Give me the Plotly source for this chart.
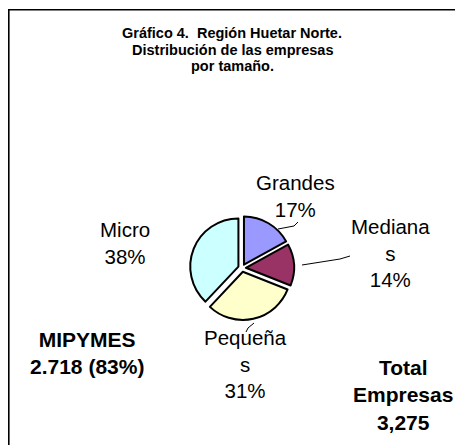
import plotly.graph_objects as go

W, H = 463, 445
OFF = 8  # page body margin offsets the figure

categories = ["Grandes", "Medianas", "Pequeñas", "Micro"]
shares = [17, 14, 31, 38]
label_texts = ["Grandes<br>17%", "Mediana<br>s<br>14%", "Pequeña<br>s<br>31%", "Micro<br>38%"]
colors = ["#9999FF", "#993366", "#FFFFCC", "#CCFFFF"]

title_lines = ["Gráfico 4.  Región Huetar Norte.", "Distribución de las empresas", "por tamaño."]
mipymes_text = "MIPYMES<br>2.718 (83%)"
total_text = "Total<br>Empresas<br>3,275"


def px(x):
    return (x - OFF) / W


def py(y):
    return 1 - (y - OFF) / H


fig = go.Figure()
fig.add_trace(go.Pie(
    labels=categories,
    values=shares,
    sort=False,
    direction="clockwise",
    rotation=0,
    pull=[0.08, 0.08, 0.08, 0.08],
    marker=dict(colors=colors, line=dict(color="black", width=2)),
    textinfo="none",
    hoverinfo="label+percent",
    showlegend=False,
    domain=dict(x=[px(190), px(294)], y=[py(320), py(216)]),
))

font_family = "Liberation Sans, Arial, sans-serif"
annotations = []
for i, t in enumerate(title_lines):
    annotations.append(dict(x=px(232), y=py(33 + 16.5 * i), text="<b>" + t + "</b>",
                            showarrow=False, xanchor="center", yanchor="middle",
                            font=dict(size=14.5, color="black", family=font_family)))

label_pos = [(295, 196), (390, 253), (245, 364), (125, 243)]
for t, (x, y) in zip(label_texts, label_pos):
    annotations.append(dict(x=px(x), y=py(y), text=t, showarrow=False,
                            xanchor="center", yanchor="middle",
                            font=dict(size=20.5, color="black", family=font_family)))

annotations.append(dict(x=px(87), y=py(353), text="<b>" + mipymes_text + "</b>", showarrow=False,
                        xanchor="center", yanchor="middle",
                        font=dict(size=21, color="black", family=font_family)))
annotations.append(dict(x=px(403), y=py(395), text="<b>" + total_text + "</b>", showarrow=False,
                        xanchor="center", yanchor="middle",
                        font=dict(size=21, color="black", family=font_family)))

shapes = [
    dict(type="rect", xref="paper", yref="paper", x0=px(8.8), y0=py(9.8), x1=px(480), y1=py(460),
         line=dict(color="black", width=1.6), fillcolor="rgba(0,0,0,0)"),
]
leaders = [[(298, 222), (294, 226), (278, 229)],
           [(350, 256), (340, 259), (302, 265)],
           [(246, 332), (248, 328), (254, 323)]]
for pts in leaders:
    for (a, b) in zip(pts[:-1], pts[1:]):
        shapes.append(dict(type="line", xref="paper", yref="paper",
                           x0=px(a[0]), y0=py(a[1]), x1=px(b[0]), y1=py(b[1]),
                           line=dict(color="black", width=1)))

fig.update_layout(
    width=W, height=H,
    margin=dict(l=0, r=0, t=0, b=0),
    paper_bgcolor="white",
    plot_bgcolor="white",
    annotations=annotations,
    shapes=shapes,
)

fig.write_html("out.html")
